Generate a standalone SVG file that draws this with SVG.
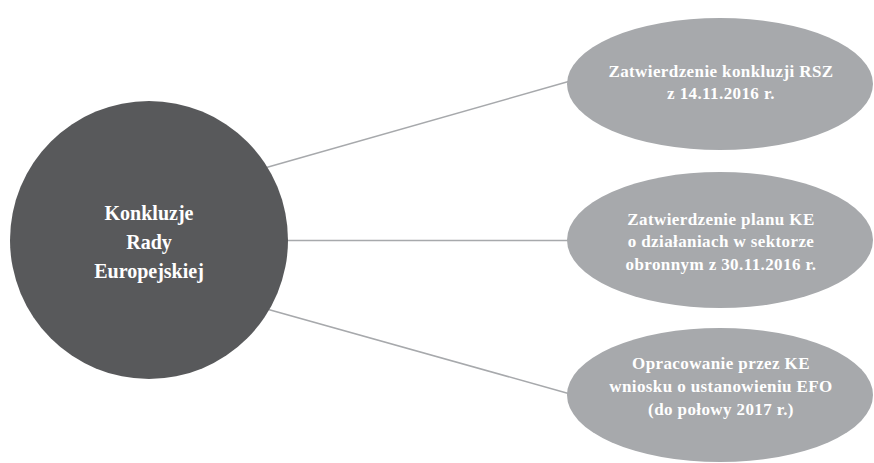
<svg xmlns="http://www.w3.org/2000/svg" width="874" height="463" viewBox="0 0 874 463">
<style>
.conn{stroke:#a7a9ac;stroke-width:1.6;fill:none}
.main{fill:#58595b}
.sub{fill:#a7a9ac}
text{font-family:"Liberation Serif","Times New Roman",serif;font-weight:bold;fill:#ffffff;text-anchor:middle}
.t1{font-size:20px}
.t2{font-size:17px;letter-spacing:0.4px}
</style>
<rect width="874" height="463" fill="#ffffff"/>
<g id="connectors">
<line class="conn" x1="262" y1="168.7" x2="572" y2="80.6"/>
<line class="conn" x1="280" y1="240.5" x2="572" y2="240.5"/>
<line class="conn" x1="264" y1="308.3" x2="572" y2="394.4"/>
</g>
<g id="node-main">
<circle class="main" cx="149" cy="240" r="139"/>
<text class="t1" x="149" y="220">Konkluzje</text>
<text class="t1" x="149" y="249">Rady</text>
<text class="t1" x="149" y="278">Europejskiej</text>
</g>
<g id="node-1">
<ellipse class="sub" cx="720" cy="84" rx="153" ry="66"/>
<text class="t2" x="721" y="77">Zatwierdzenie konkluzji RSZ</text>
<text class="t2" x="721" y="99">z 14.11.2016 r.</text>
</g>
<g id="node-2">
<ellipse class="sub" cx="720" cy="240" rx="153" ry="68"/>
<text class="t2" x="721" y="225">Zatwierdzenie planu KE</text>
<text class="t2" x="721" y="247">o działaniach w sektorze</text>
<text class="t2" x="721" y="270">obronnym z 30.11.2016 r.</text>
</g>
<g id="node-3">
<ellipse class="sub" cx="720" cy="395" rx="153" ry="67"/>
<text class="t2" x="721" y="369">Opracowanie przez KE</text>
<text class="t2" x="721" y="392">wniosku o ustanowieniu EFO</text>
<text class="t2" x="721" y="415">(do połowy 2017 r.)</text>
</g>
</svg>
